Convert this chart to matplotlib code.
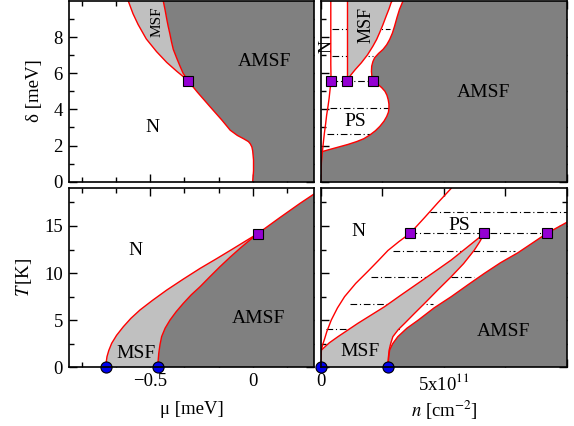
import numpy as np
import matplotlib
matplotlib.use("Agg")
import matplotlib.pyplot as plt

plt.rcParams['font.family'] = 'serif'
plt.rcParams['font.serif'] = ['Liberation Serif', 'DejaVu Serif']
plt.rcParams['mathtext.fontset'] = 'stix'

# ---------------- top left: delta vs mu ----------------
# N / AMSF boundary below the tricritical point
tl_lo_mu = [0.0, 0.004, 0.004, 0.0, -0.004, -0.012, -0.021, -0.045, -0.075,
            -0.11, -0.15, -0.21, -0.27, -0.316]
tl_lo_d = [0.0, 0.6, 1.2, 1.7, 1.92, 2.1, 2.22, 2.38, 2.56, 2.85, 3.4, 4.17,
           4.95, 5.59]
# N / MSF boundary
tl_nm_mu = [-0.316, -0.34, -0.37, -0.395, -0.42, -0.445, -0.47, -0.495, -0.52,
            -0.54, -0.56, -0.585, -0.608]
tl_nm_d = [5.59, 5.82, 6.1, 6.35, 6.6, 6.9, 7.2, 7.55, 7.9, 8.3, 8.7, 9.3, 10.0]
# MSF / AMSF boundary
tl_ma_mu = [-0.316, -0.328, -0.34, -0.355, -0.37, -0.388, -0.397, -0.405, -0.413,
            -0.42, -0.428, -0.437]
tl_ma_d = [5.59, 5.8, 6.0, 6.39, 6.8, 7.32, 7.75, 8.2, 8.6, 9.0, 9.5, 10.0]

# ---------------- top right: delta vs n ----------------
tr_left_n = [0.0, 0.01, 0.03, 0.07, 0.11, 0.15, 0.2, 0.24, 0.3, 0.34, 0.38,
             0.42, 0.41, 0.41]
tr_left_d = [0.0, 0.5, 1.1, 1.67, 2.2, 2.69, 3.2, 3.67, 4.2, 4.6, 5.1, 5.59,
             6.5, 10.0]
tr_bulge_n = [0.07, 0.3, 0.78, 1.1, 1.46, 1.75, 2.0, 2.22, 2.40, 2.57, 2.68,
              2.75, 2.77, 2.77, 2.74, 2.69, 2.61, 2.48, 2.34, 2.22, 2.12]
tr_bulge_d = [1.67, 1.76, 1.94, 2.06, 2.22, 2.38, 2.59, 2.82, 3.06, 3.35, 3.61,
              3.85, 4.07, 4.3, 4.54, 4.78, 5.0, 5.2, 5.37, 5.48, 5.59]
tr_am_n = [2.12, 2.08, 2.06, 2.07, 2.12, 2.19, 2.35, 2.53, 2.68, 2.80, 2.91,
           3.0, 3.1, 3.2, 3.34]
tr_am_d = [5.59, 5.8, 6.1, 6.39, 6.65, 6.86, 7.1, 7.32, 7.58, 7.87, 8.22,
           8.61, 9.1, 9.54, 10.0]
tr_msf_left_n = [1.08, 1.08]
tr_msf_left_d = [5.59, 10.0]
tr_msf_right_n = [1.08, 1.18, 1.4, 1.65, 1.9, 2.12, 2.27, 2.39, 2.53, 2.66,
                  2.77, 2.86, 2.9]
tr_msf_right_d = [5.59, 5.83, 6.2, 6.58, 7.02, 7.5, 7.87, 8.24, 8.7, 9.17,
                  9.55, 9.91, 10.0]
tr_tie_d = [8.43, 6.98, 5.59, 4.07, 2.63]
tr_tie_n0 = [0.45, 0.45, 0.42, 0.38, 0.24]
tr_tie_n1 = [2.81, 2.13, 2.12, 2.77, 2.0]
tr_sq_n = [0.42, 1.08, 2.12]
tr_sq_d = [5.59, 5.59, 5.59]

# ---------------- bottom left: T vs mu ----------------
bl_l_mu = [-0.717, -0.716, -0.712, -0.703, -0.689, -0.665, -0.632, -0.595,
           -0.551, -0.49, -0.42, -0.34, -0.257, -0.175, -0.095, -0.035, 0.024]
bl_l_T = [0.0, 0.5, 1.13, 1.8, 2.55, 3.4, 4.31, 5.2, 6.08, 7.1, 8.2, 9.35,
          10.5, 11.55, 12.6, 13.4, 14.18]
bl_r_mu = [-0.463, -0.462, -0.459, -0.453, -0.445, -0.428, -0.404, -0.374,
           -0.339, -0.3, -0.257, -0.21, -0.16, -0.11, -0.062, -0.02, 0.024]
bl_r_T = [0.0, 0.7, 1.49, 2.4, 3.26, 4.15, 5.02, 5.9, 6.79, 7.7, 8.56, 9.6,
          10.68, 11.7, 12.63, 13.4, 14.18]
bl_u_mu = [0.024, 0.13, 0.231, 0.3]
bl_u_T = [14.18, 15.85, 17.4, 18.4]
bl_dot_mu = [-0.717, -0.463]
bl_sq_mu = [0.024]
bl_sq_T = [14.18]

# ---------------- bottom right: T vs n (1e11 cm^-2) ----------------
br_a_n = [0.0, 0.01, 0.03, 0.08, 0.15, 0.25, 0.43, 0.68, 0.97, 1.42, 1.92,
          2.33, 2.73, 3.18, 3.63, 4.22, 4.75, 5.3]
br_a_T = [0.0, 0.9, 1.84, 2.4, 2.95, 3.8, 5.02, 6.3, 7.5, 8.9, 10.2, 11.3,
          12.4, 13.35, 14.22, 15.9, 17.45, 19.0]
br_b_n = [0.03, 0.35, 0.70, 1.1, 1.51, 2.05, 2.59, 3.25, 3.95, 4.6, 5.30,
          5.95, 6.65]
br_b_T = [1.84, 2.6, 3.25, 3.95, 4.67, 5.55, 6.43, 7.65, 8.92, 10.1, 11.39,
          12.75, 14.22]
br_c_n = [2.73, 2.735, 2.75, 2.78, 2.84, 2.93, 3.15, 3.41, 3.8, 4.22, 4.75,
          5.30, 5.8, 6.24, 6.45, 6.65]
br_c_T = [0.0, 0.5, 1.1, 1.84, 2.5, 3.25, 4.0, 4.67, 5.7, 6.79, 8.2, 9.62,
          11.0, 12.45, 13.3, 14.22]
br_d_n = [2.73, 2.74, 2.76, 2.8, 2.92, 3.13, 3.5, 3.95, 4.6, 5.30, 6.0, 6.65,
          7.3, 8.0, 8.6, 9.18, 10.0]
br_d_T = [0.0, 0.5, 1.1, 1.84, 2.5, 3.25, 4.15, 4.99, 6.3, 7.5, 8.8, 9.98,
          11.1, 12.15, 13.2, 14.22, 15.4]
br_tie_T = [16.45, 14.22, 12.35, 9.55, 6.76, 4.07]
br_tie_n0 = [4.42, 3.63, 2.93, 2.05, 1.18, 0.23]
br_tie_n1 = [10.0, 9.18, 7.87, 6.24, 4.55, 3.2]
br_dot_n = [0.0, 2.73]
br_sq_n = [3.63, 6.65, 9.18]
br_sq_T = [14.22, 14.22, 14.22]

dark = "#808080"
light = "#c0c0c0"
tie_ls = (0, (6, 2.5, 1, 2.5))
fs = 14

fig = plt.figure(figsize=(5.74, 4.26), dpi=100)
W, H = 574.0, 426.0
ax_tl = fig.add_axes([68.5 / W, 1 - 181.7 / H, 245.6 / W, 180.7 / H])
ax_tr = fig.add_axes([320.7 / W, 1 - 181.7 / H, 246.3 / W, 180.7 / H])
ax_bl = fig.add_axes([68.5 / W, 1 - 367.3 / H, 245.6 / W, 179.0 / H])
ax_br = fig.add_axes([320.7 / W, 1 - 367.3 / H, 246.3 / W, 179.0 / H])


def sq(ax, x, y):
    ax.plot(x, y, ls="none", marker="s", ms=7.5, mfc="#9400d3", mec="k",
            mew=0.8, zorder=6, clip_on=False)


def dots(ax, x):
    ax.plot(x, [0] * len(x), ls="none", marker="o", ms=8, mfc="#0000ee",
            mec="k", mew=0.8, zorder=6, clip_on=False)


def red(ax, x, y):
    ax.plot(x, y, color="red", lw=1.0, zorder=3, solid_joinstyle="round")


# top left
ax = ax_tl
ax.fill(tl_lo_mu + tl_ma_mu + [1.0, 1.0], tl_lo_d + tl_ma_d + [10.0, 0.0],
        color=dark, lw=0, zorder=2)
ax.fill(tl_nm_mu + tl_ma_mu[::-1], tl_nm_d + tl_ma_d[::-1], color=light,
        lw=0, zorder=2)
red(ax, tl_lo_mu, tl_lo_d)
red(ax, tl_nm_mu, tl_nm_d)
red(ax, tl_ma_mu, tl_ma_d)
sq(ax, [tl_lo_mu[-1]], [tl_lo_d[-1]])
ax.text(0.056, 6.67, "AMSF", fontsize=fs, ha="center", va="center")
ax.text(-0.491, 3.01, "N", fontsize=fs, ha="center", va="center")
ax.text(-0.465, 8.84, "MSF", fontsize=11, ha="center", va="center", rotation=90)
ax.set_xlim(-0.9, 0.3)
ax.set_ylim(0, 10)

# top right
ax = ax_tr
ax.fill(tr_left_n[:4] + tr_bulge_n[1:] + tr_am_n[1:] + [11.0, 11.0],
        tr_left_d[:4] + tr_bulge_d[1:] + tr_am_d[1:] + [10.0, 0.0],
        color=dark, lw=0, zorder=2)
ax.fill(tr_msf_left_n + tr_msf_right_n[::-1], tr_msf_left_d + tr_msf_right_d[::-1],
        color=light, lw=0, zorder=2)
for d, a, b in zip(tr_tie_d, tr_tie_n0, tr_tie_n1):
    ax.plot([a, b], [d, d], color="k", lw=0.8, ls=tie_ls, zorder=1)
red(ax, tr_left_n, tr_left_d)
red(ax, tr_bulge_n, tr_bulge_d)
red(ax, tr_am_n, tr_am_d)
red(ax, tr_msf_left_n, tr_msf_left_d)
red(ax, tr_msf_right_n, tr_msf_right_d)
sq(ax, tr_sq_n, tr_sq_d)
ax.text(6.62, 4.93, "AMSF", fontsize=fs, ha="center", va="center")
ax.text(1.39, 3.33, "PS", fontsize=fs, ha="center", va="center")
ax.text(1.83, 8.7, "MSF", fontsize=13, ha="center", va="center", rotation=90, zorder=4)
ax.text(0.24, 7.46, "N", fontsize=13, ha="center", va="center", rotation=90, zorder=0.5)
ax.set_xlim(0, 10)
ax.set_ylim(0, 10)

# bottom left
ax = ax_bl
ax.fill(bl_r_mu + bl_u_mu[1:] + [1.0], bl_r_T + bl_u_T[1:] + [0.0],
        color=dark, lw=0, zorder=2)
ax.fill(bl_l_mu + bl_r_mu[::-1], bl_l_T + bl_r_T[::-1], color=light, lw=0, zorder=2)
red(ax, bl_l_mu, bl_l_T)
red(ax, bl_r_mu, bl_r_T)
red(ax, bl_u_mu, bl_u_T)
sq(ax, bl_sq_mu, bl_sq_T)
dots(ax, bl_dot_mu)
ax.text(-0.575, 12.45, "N", fontsize=fs, ha="center", va="center")
ax.text(0.027, 5.2, "AMSF", fontsize=fs, ha="center", va="center")
ax.text(-0.57, 1.49, "MSF", fontsize=fs, ha="center", va="center", zorder=4)
ax.set_xlim(-0.9, 0.3)
ax.set_ylim(0, 19)

# bottom right
ax = ax_br
ax.fill(br_d_n + [11.0, 11.0], br_d_T + [16.0, 0.0], color=dark, lw=0, zorder=2)
ax.fill([0.0, 0.01] + br_b_n + br_c_n[::-1], [0.0, 0.9] + br_b_T + br_c_T[::-1],
        color=light, lw=0, zorder=2)
for t, a, b in zip(br_tie_T, br_tie_n0, br_tie_n1):
    ax.plot([a, b], [t, t], color="k", lw=0.8, ls=tie_ls, zorder=1)
red(ax, br_a_n, br_a_T)
red(ax, br_b_n, br_b_T)
red(ax, br_c_n, br_c_T)
red(ax, br_d_n, br_d_T)
sq(ax, br_sq_n, br_sq_T)
dots(ax, br_dot_n)
ax.text(1.53, 14.4, "N", fontsize=fs, ha="center", va="center")
ax.text(5.61, 15.1, "PS", fontsize=fs, ha="center", va="center")
ax.text(7.41, 3.78, "AMSF", fontsize=fs, ha="center", va="center")
ax.text(1.59, 1.66, "MSF", fontsize=fs, ha="center", va="center", zorder=4)
ax.set_xlim(0, 10)
ax.set_ylim(0, 19)

# ticks
mu_major = [-0.5, 0.0]
mu_minor = [-5 / 6, -4 / 6, -2 / 6, -1 / 6, 1 / 6]
for ax in (ax_tl, ax_bl):
    ax.set_xticks(mu_major)
    ax.set_xticks(mu_minor, minor=True)
    ax.set_xticklabels(["\u22120.5", "0"])
for ax in (ax_tr, ax_br):
    ax.set_xticks([0, 2.5, 5, 7.5, 10])
    ax.set_xticklabels(["0", "", "5x10$^{11}$", "", ""])
for ax in (ax_tl, ax_tr):
    ax.set_yticks([0, 2, 4, 6, 8])
    ax.set_yticks([1, 3, 5, 7, 9], minor=True)
for ax in (ax_bl, ax_br):
    ax.set_yticks([0, 5, 10, 15])
    ax.set_yticks([2.5, 7.5, 12.5, 17.5], minor=True)

for ax in (ax_tl, ax_tr, ax_bl, ax_br):
    ax.tick_params(which="both", direction="in", top=True, right=True,
                   labelsize=13.5, width=1.0, pad=4)
    ax.tick_params(which="major", length=6)
    ax.tick_params(which="minor", length=3.5)
    for s in ax.spines.values():
        s.set_linewidth(1.2)
        s.set_zorder(7)
ax_tl.tick_params(labelbottom=False)
ax_tr.tick_params(labelbottom=False, labelleft=False)
ax_br.tick_params(labelleft=False)

fig.text(34.5 / W, 1 - 91 / H, "\u03b4 [meV]", fontsize=13.5, rotation=90,
         ha="center", va="center")
fig.text(24.5 / W, 1 - 277 / H, "$T\\,$[K]", fontsize=13.5, rotation=90,
         ha="center", va="center")
fig.text(192 / W, 1 - 410 / H, "\u03bc [meV]", fontsize=13.5, ha="center", va="center")
fig.text(444 / W, 1 - 410 / H, "$n$ [cm$^{-2}$]", fontsize=13.5, ha="center", va="center")

fig.savefig("out.png", dpi=100)
